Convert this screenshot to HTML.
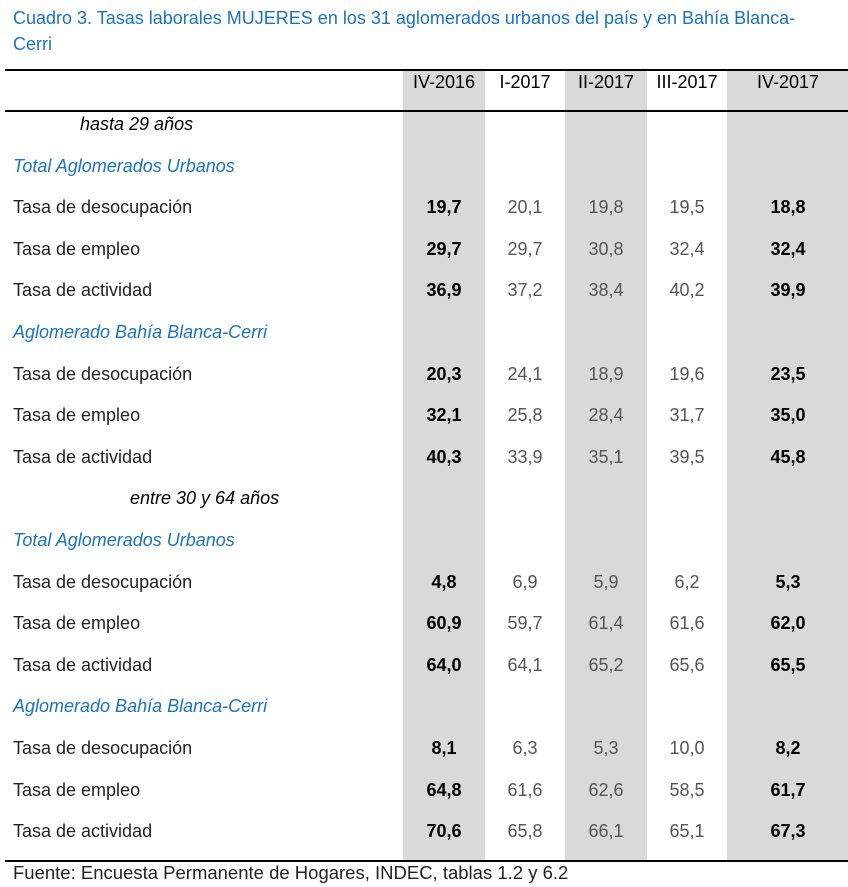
<!DOCTYPE html>
<html><head><meta charset="utf-8">
<style>
body{margin:0;width:848px;height:887px;background:#fff;position:relative;overflow:hidden;font-family:"Liberation Sans",sans-serif;}
.a{position:absolute;white-space:nowrap;}
.g{position:absolute;background:#d9d9d9;top:70px;height:791px;}
.ln{position:absolute;left:5px;width:843px;height:1.5px;background:#000;}
.t{font-size:18px;color:#222;}
.blue{color:#1a73c2;font-style:italic;font-size:18px;}
.num{font-size:18px;width:80px;text-align:center;}
.b{font-weight:bold;color:#000;}
.n{color:#555;}
</style></head><body>
<div class="a" style="left:13px;top:5px;font-size:18px;color:#1a73c2;line-height:26px;">Cuadro 3. Tasas laborales MUJERES en los 31 aglomerados urbanos del país y en Bahía Blanca-<br>Cerri</div>
<div class="g" style="left:403px;width:82px"></div>
<div class="g" style="left:565px;width:82px"></div>
<div class="g" style="left:727px;width:121px"></div>
<div class="ln" style="top:69px"></div>
<div class="ln" style="top:110px"></div>
<div class="ln" style="top:860px"></div>
<div class="a" style="left:13px;top:862px;font-size:18.5px;color:#222;">Fuente: Encuesta Permanente de Hogares, INDEC, tablas 1.2 y 6.2</div>
<script>
const periods=["IV-2016","I-2017","II-2017","III-2017","IV-2017"];
const rowLabels=["Tasa de desocupación","Tasa de empleo","Tasa de actividad"];
const tau29=[["19,7","20,1","19,8","19,5","18,8"],["29,7","29,7","30,8","32,4","32,4"],["36,9","37,2","38,4","40,2","39,9"]];
const bb29=[["20,3","24,1","18,9","19,6","23,5"],["32,1","25,8","28,4","31,7","35,0"],["40,3","33,9","35,1","39,5","45,8"]];
const tau64=[["4,8","6,9","5,9","6,2","5,3"],["60,9","59,7","61,4","61,6","62,0"],["64,0","64,1","65,2","65,6","65,5"]];
const bb64=[["8,1","6,3","5,3","10,0","8,2"],["64,8","61,6","62,6","58,5","61,7"],["70,6","65,8","66,1","65,1","67,3"]];
const colCenters=[444,525,606,687,788];
const root=document.body;
function txt(x,cy,s,cls,w){const d=document.createElement('div');d.className='a '+cls;d.textContent=s;d.style.left=x+'px';d.style.top=(cy-11)+'px';if(w)d.style.width=w+'px';root.appendChild(d);return d;}
periods.forEach((p,i)=>{const d=txt(colCenters[i]-45,83,p,'num',90);d.style.fontSize='18px';d.style.color='#000';

});
const step=41.6;
let y=125;
function group(label){const d=txt(label.x,y,label.s,label.c);


y+=step;}
function block(title,data,key){const h=txt(13,y,title,'blue');


y+=step;
data.forEach((vals,r)=>{const l=txt(13,y,rowLabels[r],'t');


vals.forEach((v,c)=>{const bold=(c===0||c===4);const d=txt(colCenters[c]-40,y,v,'num '+(bold?'b':'n'),80);

});
y+=step;});}
group({x:80,s:"hasta 29 años",c:'t',n:'age-group-under-29'});
root.lastChild.style.fontStyle='italic';root.lastChild.style.color='#000';
block("Total Aglomerados Urbanos",tau29,'tau-29');
block("Aglomerado Bahía Blanca-Cerri",bb29,'bb-29');
group({x:130,s:"entre 30 y 64 años",c:'t',n:'age-group-30-64'});
root.lastChild.style.fontStyle='italic';root.lastChild.style.color='#000';
block("Total Aglomerados Urbanos",tau64,'tau-64');
block("Aglomerado Bahía Blanca-Cerri",bb64,'bb-64');
</script>
</body></html>
